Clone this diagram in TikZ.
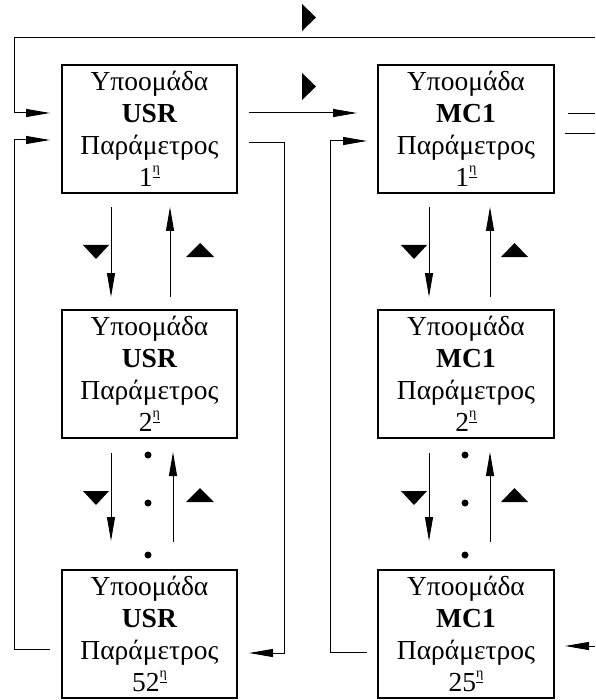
\documentclass[tikz,border=0pt]{standalone}
\usepackage{fontspec}
\setmainfont{Liberation Serif}
\usetikzlibrary{arrows.meta}
\newcommand{\ordn}[1]{#1\raisebox{0.5em}{\fontsize{14}{14}\selectfont\underline{η}}}
\begin{document}
\begin{tikzpicture}[x=1pt,y=-1pt,
  box/.style={draw,line width=1.3pt,minimum width=175pt,minimum height=128pt,inner sep=0pt,align=center,
    font=\fontsize{27.5}{32}\selectfont},
  conn/.style={line width=1pt},
  arr/.style={conn,-{Triangle[length=24pt,width=8pt]}},
  marker/.style={fill=black}]
\useasboundingbox (0,0) rectangle (595,700);
% boxes
\node[box] (u1) at (149.5,129) {Υποομάδα\\\textbf{USR}\\Παράμετρος\\\ordn{1}};
\node[box] (u2) at (149.5,374) {Υποομάδα\\\textbf{USR}\\Παράμετρος\\\ordn{2}};
\node[box] (u3) at (149.5,634) {Υποομάδα\\\textbf{USR}\\Παράμετρος\\\ordn{52}};
\node[box,minimum width=176pt] (m1) at (466,129) {Υποομάδα\\\textbf{MC1}\\Παράμετρος\\\ordn{1}};
\node[box,minimum width=176pt] (m2) at (466,374) {Υποομάδα\\\textbf{MC1}\\Παράμετρος\\\ordn{2}};
\node[box,minimum width=176pt] (m3) at (466,634) {Υποομάδα\\\textbf{MC1}\\Παράμετρος\\\ordn{25}};
% coordinates
\coordinate (tr) at (595,38);
\coordinate (tl) at (14,38);
\coordinate (in1) at (50,113);
\coordinate (in2) at (50,140);
\coordinate (l1) at (14,649);
\coordinate (l2) at (50,649);
% top loop
\draw[arr] (tr) -- (tl) |- (in1);
\draw[arr] (l2) -- (l1) |- (in2);
% USR -> MC1
\draw[arr] (249,113) -- (357,113);
% right loop of USR
\draw[arr] (249,143) -| (284,653) -- (249,653);
% MC1 left loop
\draw[arr] (367,652) -| (330,141) -- (367,141);
% MC1 right stubs
\draw[conn] (568,114) -- (595,114);
\draw[conn] (565,134) -- (595,134);
\draw[arr] (595,646) -- (565,646);
% vertical arrows left column
\draw[arr] (111,207) -- (111,297);
\draw[arr] (170,297) -- (170,207);
\draw[arr] (111,453) -- (111,541);
\draw[arr] (173,542) -- (173,452);
% vertical arrows right column
\draw[arr] (429,207) -- (429,297);
\draw[arr] (490,297) -- (490,207);
\draw[arr] (429,453) -- (429,541);
\draw[arr] (490,542) -- (490,452);
% dots
\foreach \x in {148,465} {
  \fill (\x,455) circle (3.5pt);
  \fill (\x,503) circle (3.5pt);
  \fill (\x,555) circle (3.5pt);
}
% markers
\fill[marker] (302,4) -- (316,17.5) -- (302,31) -- cycle;
\fill[marker] (302,73) -- (316,86.5) -- (302,100) -- cycle;
\foreach \y in {245,491} {
  \fill[marker] (83,\y) -- (109,\y) -- (96,\y+14) -- cycle;
  \fill[marker] (401,\y) -- (427,\y) -- (414,\y+14) -- cycle;
}
\foreach \y in {257,502} {
  \fill[marker] (186,\y) -- (214,\y) -- (200,\y-14) -- cycle;
  \fill[marker] (501,\y) -- (528,\y) -- (514.5,\y-14) -- cycle;
}
\end{tikzpicture}
\end{document}
